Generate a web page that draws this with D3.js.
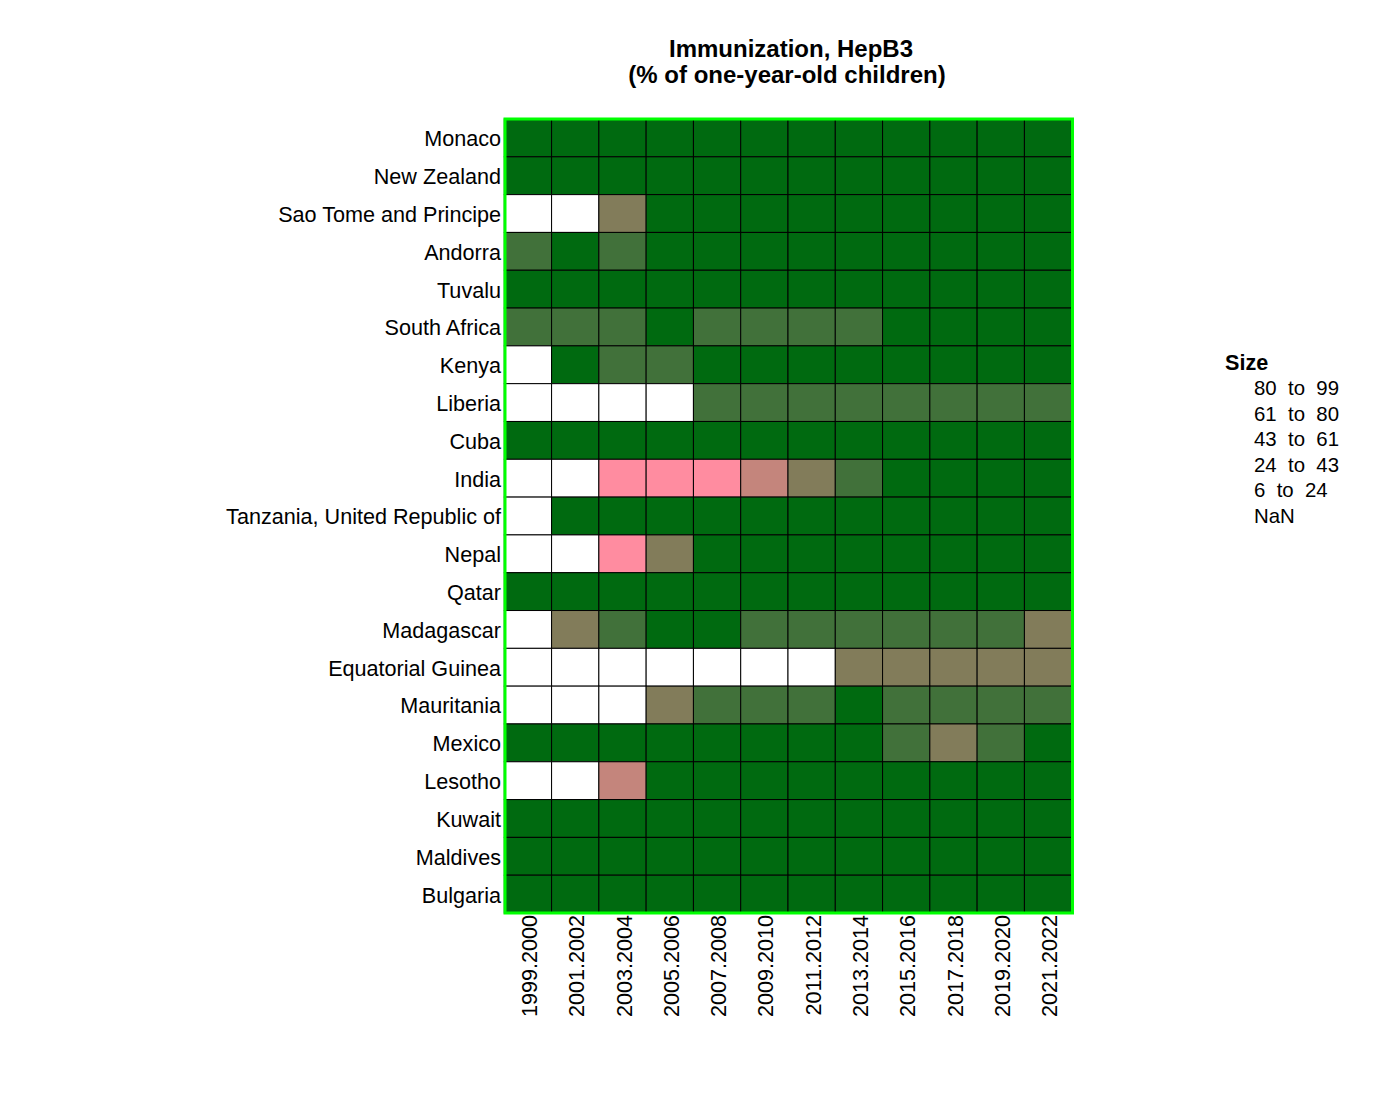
<!DOCTYPE html>
<html>
<head>
<meta charset="utf-8">
<script src="https://cdn.jsdelivr.net/npm/d3@7"></script>
<style>
body { margin: 0; background: #fff; }
text { font-family: "Liberation Sans", Arial, sans-serif; fill: #000; white-space: pre; }
</style>
</head>
<body>
<div id="main"></div>
<script>
var years = ["1999.2000","2001.2002","2003.2004","2005.2006","2007.2008","2009.2010",
             "2011.2012","2013.2014","2015.2016","2017.2018","2019.2020","2021.2022"];
var countries = ["Monaco","New Zealand","Sao Tome and Principe","Andorra","Tuvalu","South Africa",
                 "Kenya","Liberia","Cuba","India","Tanzania, United Republic of","Nepal","Qatar",
                 "Madagascar","Equatorial Guinea","Mauritania","Mexico","Lesotho","Kuwait","Maldives","Bulgaria"];

// null = no data
var monaco     = [99,99,99,99,99,99,99,99,99,99,99,99];
var newZealand = [85,88,90,90,92,93,93,93,93,92,90,88];
var saoTome    = [null,null,50,85,90,92,95,96,96,95,96,96];
var andorra    = [70,85,75,95,97,98,98,96,94,98,98,98];
var tuvalu     = [93,92,90,95,92,90,95,96,92,93,90,92];
var southAfrica= [72,75,70,82,70,68,72,70,82,82,84,85];
var kenya      = [null,82,70,72,82,85,88,90,89,90,90,91];
var liberia    = [null,null,null,null,70,68,72,70,75,72,72,78];
var cuba       = [96,97,98,98,98,98,98,97,98,98,98,98];
var india      = [null,null,8,12,20,37,50,70,87,90,88,86];
var tanzania   = [null,82,93,92,88,90,92,95,96,96,94,92];
var nepal      = [null,null,22,55,82,85,88,90,90,90,91,91];
var qatar      = [93,94,96,97,95,96,97,98,98,97,96,96];
var madagascar = [null,55,68,81,82,72,72,70,72,72,68,55];
var eqGuinea   = [null,null,null,null,null,null,null,50,52,53,53,53];
var mauritania = [null,null,null,55,68,65,70,81,72,70,71,70];
var mexico     = [87,88,90,95,98,95,90,84,78,52,75,83];
var lesotho    = [null,null,38,84,83,85,88,92,93,91,87,87];
var kuwait     = [98,98,98,98,99,98,98,98,97,95,96,94];
var maldives   = [98,98,98,97,98,98,99,99,99,99,98,99];
var bulgaria   = [96,96,96,96,95,95,95,95,92,92,90,88];

var rows = [monaco,newZealand,saoTome,andorra,tuvalu,southAfrica,kenya,liberia,cuba,india,tanzania,
            nepal,qatar,madagascar,eqGuinea,mauritania,mexico,lesotho,kuwait,maldives,bulgaria];

var binEdges = [24,43,61,80];
var binColors = ["#ff8ca0","#c4857c","#827c5a","#41713a","#006a10"];
var legendTitle = "Size";
var legendLabels = ["80  to  99","61  to  80","43  to  61","24  to  43","6  to  24","NaN"];

var w = 1400, h = 1100;
var left = 504.3, right = 1071.7, top_ = 119, bottom = 913;

var svg = d3.select("#main").append("svg")
    .attr("width", w)
    .attr("height", h)
    .style("display", "block");

var x = d3.scaleBand().domain(years).range([left, right]);
var y = d3.scaleBand().domain(countries).range([top_, bottom]);
var color = d3.scaleThreshold().domain(binEdges).range(binColors);

var cells = [];
rows.forEach(function(row, i) {
    row.forEach(function(v, j) {
        cells.push({country: countries[i], year: years[j], value: v});
    });
});

svg.selectAll("rect.cell")
    .data(cells)
    .enter()
    .append("rect")
    .attr("class", "cell")
    .attr("x", function(d) { return x(d.year); })
    .attr("y", function(d) { return y(d.country); })
    .attr("width", x.bandwidth())
    .attr("height", y.bandwidth())
    .attr("fill", function(d) { return d.value === null ? "#ffffff" : color(d.value); })
    .attr("stroke", "#000")
    .attr("stroke-width", 1);

// green frame
svg.append("rect")
    .attr("x", 505)
    .attr("y", top_)
    .attr("width", 1072.5 - 505)
    .attr("height", bottom - top_)
    .attr("fill", "none")
    .attr("stroke", "#00ff00")
    .attr("stroke-width", 3);

var yAxis = svg.append("g")
    .attr("transform", "translate(501,1.5)")
    .call(d3.axisLeft(y).tickSize(0).tickPadding(0));
yAxis.select(".domain").remove();
yAxis.selectAll("text")
    .style("font-family", "'Liberation Sans', Arial, sans-serif")
    .style("font-size", "21.6px")
    .attr("fill", "#000");

var xAxis = svg.append("g")
    .attr("transform", "translate(1.5," + (bottom + 2) + ")")
    .call(d3.axisBottom(x).tickSize(0).tickPadding(0));
xAxis.select(".domain").remove();
xAxis.selectAll("text")
    .style("font-family", "'Liberation Sans', Arial, sans-serif")
    .style("font-size", "21.6px")
    .attr("fill", "#000")
    .attr("transform", "rotate(-90)")
    .attr("x", 0)
    .attr("y", 0)
    .attr("dx", 0)
    .attr("dy", "0.35em")
    .style("text-anchor", "end");

svg.append("text")
    .attr("x", 791)
    .attr("y", 57)
    .attr("text-anchor", "middle")
    .style("font-size", "24px")
    .style("font-weight", "bold")
    .text("Immunization, HepB3");
svg.append("text")
    .attr("x", 787)
    .attr("y", 83)
    .attr("text-anchor", "middle")
    .style("font-size", "24px")
    .style("font-weight", "bold")
    .text("(% of one-year-old children)");

// legend has labels only
svg.append("text")
    .attr("x", 1225)
    .attr("y", 370)
    .style("font-size", "21.6px")
    .style("font-weight", "bold")
    .text(legendTitle);
var legendY = d3.scalePoint().domain(legendLabels).range([395, 523]);
svg.selectAll("text.legend")
    .data(legendLabels)
    .enter()
    .append("text")
    .attr("class", "legend")
    .attr("x", 1254)
    .attr("y", function(d) { return legendY(d); })
    .style("font-size", "20.4px")
    .text(function(d) { return d; });
</script>
</body>
</html>
